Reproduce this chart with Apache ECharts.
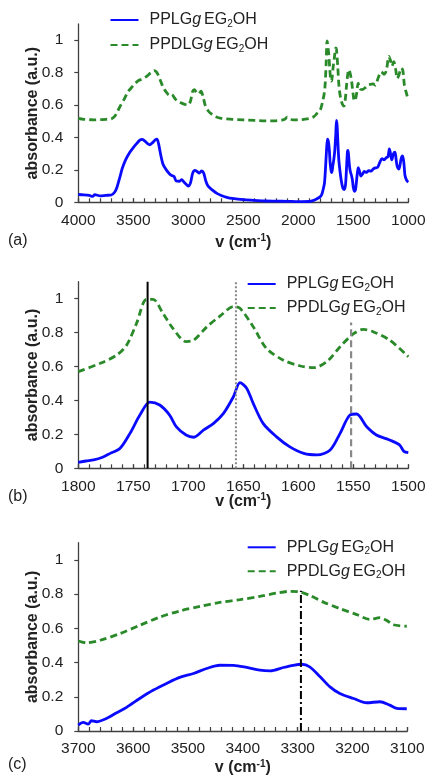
<!DOCTYPE html>
<html><head><meta charset="utf-8">
<script src="https://cdn.jsdelivr.net/npm/echarts@6/dist/echarts.min.js"></script>
<style>html,body{margin:0;padding:0;background:#fff}#c{width:429px;height:781px}</style>
</head><body><div id="c"></div>
<script>
// ---------- DATA ----------
const seriesNames = ['PPLGgEG2OH', 'PPDLGgEG2OH'];
const yTicks = [0, 0.2, 0.4, 0.6, 0.8, 1];

// Panel (a): 4000-1000 cm-1
const aBlueX = [4000,3950,3900,3870,3850,3800,3750,3700,3670,3650,3620,3600,3570,3530,3500,3470,3440,3420,3400,3370,3350,3330,3300,3285,3270,3250,3230,3200,3170,3150,3130,3110,3080,3060,3040,3010,3000,2980,2960,2940,2920,2900,2880,2860,2840,2820,2780,2740,2700,2650,2600,2500,2400,2300,2200,2100,2000,1900,1860,1830,1800,1786,1771,1762,1753,1744,1735,1726,1717,1711,1702,1695,1686,1677,1668,1659,1653,1647,1641,1632,1620,1608,1595,1583,1571,1562,1553,1547,1538,1529,1517,1508,1500,1490,1480,1465,1455,1445,1430,1415,1400,1380,1360,1340,1320,1300,1280,1260,1240,1220,1200,1185,1172,1160,1150,1135,1121,1110,1100,1085,1065,1052,1040,1030,1015,1000];
const aBlueY = [0.048,0.046,0.042,0.036,0.047,0.040,0.043,0.045,0.062,0.090,0.160,0.210,0.262,0.310,0.338,0.362,0.383,0.388,0.380,0.362,0.355,0.365,0.385,0.390,0.360,0.290,0.235,0.200,0.175,0.165,0.160,0.132,0.130,0.140,0.125,0.105,0.100,0.120,0.180,0.197,0.190,0.180,0.193,0.180,0.130,0.100,0.075,0.055,0.042,0.031,0.024,0.016,0.012,0.008,0.007,0.006,0.004,0.005,0.012,0.022,0.035,0.049,0.088,0.118,0.206,0.314,0.390,0.373,0.314,0.246,0.196,0.183,0.226,0.265,0.324,0.422,0.505,0.472,0.383,0.265,0.187,0.128,0.088,0.079,0.108,0.206,0.314,0.320,0.246,0.196,0.167,0.138,0.092,0.068,0.078,0.170,0.214,0.195,0.162,0.175,0.190,0.185,0.195,0.192,0.205,0.212,0.215,0.245,0.270,0.262,0.275,0.280,0.330,0.295,0.262,0.300,0.310,0.260,0.220,0.205,0.270,0.286,0.240,0.165,0.135,0.125];
const aGreenX = [4000,3950,3900,3850,3800,3750,3700,3670,3640,3610,3580,3550,3520,3490,3460,3430,3400,3370,3340,3310,3290,3270,3250,3230,3200,3170,3150,3130,3100,3060,3020,3000,2980,2960,2945,2925,2905,2885,2865,2845,2820,2790,2750,2700,2600,2500,2400,2300,2200,2130,2100,2080,2050,2000,1950,1900,1860,1830,1800,1780,1765,1756,1747,1738,1732,1723,1714,1702,1695,1683,1671,1659,1653,1641,1629,1614,1598,1586,1574,1562,1550,1541,1532,1517,1500,1490,1475,1455,1440,1420,1395,1370,1345,1320,1300,1275,1245,1220,1200,1176,1160,1148,1132,1116,1100,1085,1065,1050,1035,1015,1000];
const aGreenY = [0.518,0.512,0.510,0.508,0.510,0.512,0.515,0.530,0.565,0.605,0.640,0.680,0.705,0.728,0.748,0.758,0.768,0.782,0.800,0.812,0.805,0.780,0.745,0.712,0.680,0.660,0.665,0.648,0.625,0.612,0.602,0.600,0.625,0.685,0.695,0.675,0.670,0.685,0.650,0.595,0.565,0.545,0.528,0.518,0.512,0.508,0.505,0.502,0.503,0.510,0.525,0.518,0.508,0.508,0.512,0.517,0.528,0.548,0.570,0.619,0.668,0.727,0.855,0.996,0.996,0.913,0.825,0.747,0.756,0.835,0.898,0.953,0.943,0.835,0.707,0.639,0.603,0.593,0.629,0.717,0.792,0.819,0.805,0.756,0.658,0.625,0.650,0.735,0.700,0.695,0.705,0.722,0.728,0.730,0.722,0.765,0.805,0.790,0.812,0.900,0.870,0.840,0.868,0.825,0.765,0.785,0.828,0.815,0.720,0.668,0.630];

// Panel (b): 1800-1500 cm-1
const bBlueX = [1800,1793,1786,1778,1771,1762,1753,1744,1735,1726,1717,1711,1702,1695,1686,1677,1668,1659,1653,1647,1641,1632,1620,1608,1595,1583,1571,1562,1553,1547,1538,1529,1517,1508,1504,1500];
const bBlueY = [0.035,0.043,0.049,0.065,0.088,0.118,0.206,0.314,0.390,0.373,0.314,0.246,0.196,0.183,0.226,0.265,0.324,0.422,0.505,0.472,0.383,0.265,0.187,0.128,0.088,0.079,0.108,0.206,0.314,0.320,0.246,0.196,0.167,0.138,0.100,0.092];
const bGreenX = [1800,1780,1765,1756,1747,1738,1732,1723,1714,1702,1695,1683,1671,1659,1653,1641,1629,1614,1598,1586,1574,1562,1550,1541,1532,1517,1500];
const bGreenY = [0.570,0.619,0.668,0.727,0.855,0.996,0.996,0.913,0.825,0.747,0.756,0.835,0.898,0.953,0.943,0.835,0.707,0.639,0.603,0.593,0.629,0.717,0.792,0.819,0.805,0.756,0.658];
const bMarkX = [1737, 1656.7, 1552];
const bMarkTop = [1.1, 1.1, 0.86];

// Panel (c): 3700-3100 cm-1
const cBlueX = [3700,3691,3682,3676,3667,3648,3630,3612,3588,3563,3539,3515,3490,3466,3442,3417,3393,3369,3350,3326,3308,3293,3278,3259,3241,3223,3198,3174,3150,3132,3119,3101];
const cBlueY = [0.035,0.050,0.040,0.060,0.054,0.074,0.107,0.138,0.190,0.239,0.278,0.313,0.336,0.365,0.384,0.383,0.371,0.355,0.351,0.371,0.384,0.390,0.375,0.317,0.258,0.219,0.190,0.165,0.171,0.151,0.132,0.130];
const cGreenX = [3700,3685,3660,3624,3588,3551,3515,3478,3442,3405,3369,3338,3314,3296,3278,3253,3223,3192,3168,3150,3138,3126,3101];
const cGreenY = [0.526,0.515,0.530,0.569,0.617,0.666,0.701,0.728,0.751,0.767,0.786,0.806,0.816,0.812,0.792,0.753,0.715,0.680,0.652,0.662,0.647,0.621,0.612];
const cMarkX = [3294];
const cMarkTop = [0.82];

// ---------- CHART ----------
const FONT = '"Liberation Sans", Arial, Helvetica, sans-serif';
const TXT = '#222';
const AX = '#404040';
const BLUE = '#0a0aff';
const GREEN = '#2a8a2a';
const zip = (xs, ys) => xs.map((v, i) => [v, ys[i]]);

const grids = [
  {left: 78.3, top: 24, width: 330, height: 178.3},
  {left: 78.3, top: 281.7, width: 330, height: 186.6},
  {left: 78.3, top: 542.7, width: 329, height: 188.3}
];
const xRanges = [[1000, 4000, 500], [1500, 1800, 50], [3100, 3700, 100]];
const xNameGaps = [31, 24, 28];

const xMain = xRanges.map((r, i) => ({
  type: 'value', gridIndex: i, min: r[0], max: r[1], interval: r[2], inverse: true,
  axisLine: {show: true, onZero: false, lineStyle: {color: AX, width: 1.3}},
  axisTick: {show: true, inside: true, length: 4, lineStyle: {color: AX, width: 1.2}},
  minorTick: {show: true, splitNumber: 5, length: 4, lineStyle: {color: AX, width: 1.2}},
  splitLine: {show: false}, minorSplitLine: {show: false},
  axisLabel: {fontSize: 15.5, color: TXT, fontFamily: FONT, margin: 10, formatter: v => String(v)},
  name: '{b|v (cm}{sup|-1}{b|)}', nameLocation: 'middle', nameGap: xNameGaps[i], nameMoveOverlap: false,
  nameTextStyle: {rich: {
    b: {fontSize: 16, fontWeight: 'bold', color: TXT, fontFamily: FONT, lineHeight: 18},
    sup: {fontSize: 10, fontWeight: 'bold', color: TXT, fontFamily: FONT, lineHeight: 10, verticalAlign: 'top'}
  }}
}));
const xExtra = xRanges.map((r, i) => ({
  type: 'value', gridIndex: i, min: r[0], max: r[1], interval: r[2], inverse: true,
  axisLine: {show: false}, axisLabel: {show: false}, splitLine: {show: false},
  axisTick: {show: true, inside: false, length: 4, lineStyle: {color: AX, width: 1.2}}
}));
const yAxes = [0, 1, 2].map(i => ({
  type: 'value', gridIndex: i, min: 0, max: 1.1, interval: 0.2,
  axisLine: {show: true, lineStyle: {color: AX, width: 1.3}},
  axisTick: {show: true, inside: false, length: 4, customValues: yTicks, lineStyle: {color: AX, width: 1.2}},
  axisLabel: {fontSize: 15.5, color: TXT, fontFamily: FONT, margin: 15, customValues: yTicks,
    formatter: v => String(+v.toFixed(1))},
  splitLine: {show: false},
  name: 'absorbance (a.u.)', nameLocation: 'middle', nameGap: 38, nameMoveOverlap: false,
  nameTextStyle: {fontSize: 16, fontWeight: 'bold', color: TXT, fontFamily: FONT}
}));

const rich = {
  f: {fontSize: 16, lineHeight: 18, color: TXT, fontFamily: FONT, padding: [0, 0, 0, 6]},
  n: {fontSize: 16, lineHeight: 18, color: TXT, fontFamily: FONT},
  g: {fontSize: 16, lineHeight: 18, color: TXT, fontFamily: FONT, fontStyle: 'italic', padding: [0, 3, 0, 0]},
  s: {fontSize: 10, lineHeight: 10, color: TXT, fontFamily: FONT, verticalAlign: 'bottom'}
};
const legendFmt = name => name === seriesNames[0]
  ? '{f|PPLG}{g|g}{n|EG}{s|2}{n|OH}'
  : '{f|PPDLG}{g|g}{n|EG}{s|2}{n|OH}';
const legendPos = [{left: 109.5, top: 12, gap: 8}, {left: 246.7, top: 276, gap: 7}, {left: 246.7, top: 539.3, gap: 7}];
const legends = legendPos.map(p => ({
  orient: 'vertical', left: p.left, top: p.top, itemGap: p.gap, padding: 0,
  itemWidth: 28, itemHeight: 12, selectedMode: false,
  itemStyle: {color: 'rgba(0,0,0,0)', borderWidth: 0, opacity: 0},
  data: seriesNames, formatter: legendFmt, textStyle: {rich: rich}
}));

const dataSets = [
  [zip(aBlueX, aBlueY), zip(aGreenX, aGreenY)],
  [zip(bBlueX, bBlueY), zip(bGreenX, bGreenY)],
  [zip(cBlueX, cBlueY), zip(cGreenX, cGreenY)]
];
const series = [];
dataSets.forEach((d, i) => {
  series.push({
    name: seriesNames[0], type: 'line', xAxisIndex: i, yAxisIndex: i, data: d[0],
    symbol: 'none', smooth: 0.3, z: 3,
    lineStyle: {color: BLUE, width: 2.8}, itemStyle: {color: BLUE}
  });
  series.push({
    name: seriesNames[1], type: 'line', xAxisIndex: i, yAxisIndex: i, data: d[1],
    symbol: 'none', smooth: 0.3, z: 3,
    lineStyle: {color: GREEN, width: 2.8, type: [7, 4]}, itemStyle: {color: GREEN}
  });
});
const bStyles = [
  {color: '#000', width: 2, type: 'solid'},
  {color: '#888', width: 2, type: [2, 2]},
  {color: '#888', width: 2.2, type: [7, 4]}
];
bMarkX.forEach((x, k) => series.push({
  name: 'mb' + k, type: 'line', xAxisIndex: 1, yAxisIndex: 1, symbol: 'none', z: 4, silent: true,
  data: [[x, 0], [x, bMarkTop[k]]], lineStyle: bStyles[k]
}));
cMarkX.forEach((x, k) => series.push({
  name: 'mc' + k, type: 'line', xAxisIndex: 2, yAxisIndex: 2, symbol: 'none', z: 4, silent: true,
  data: [[x, 0], [x, cMarkTop[k]]], lineStyle: {color: '#000', width: 2, type: [8, 3, 2, 3]}
}));

const panelLabels = [['(a)', 242], ['(b)', 498], ['(c)', 766]];
const chart = echarts.init(document.getElementById('c'), null, {renderer: 'canvas'});
chart.setOption({
  backgroundColor: '#fff',
  animation: false,
  textStyle: {fontFamily: FONT},
  grid: grids,
  xAxis: xMain.concat(xExtra),
  yAxis: yAxes,
  legend: legends,
  series: series,
  graphic: panelLabels.map(p => ({
    type: 'text', left: 8, top: p[1] - 9,
    style: {text: p[0], fontSize: 16, fill: TXT, fontFamily: FONT}
  }))
});
</script>
</body></html>
